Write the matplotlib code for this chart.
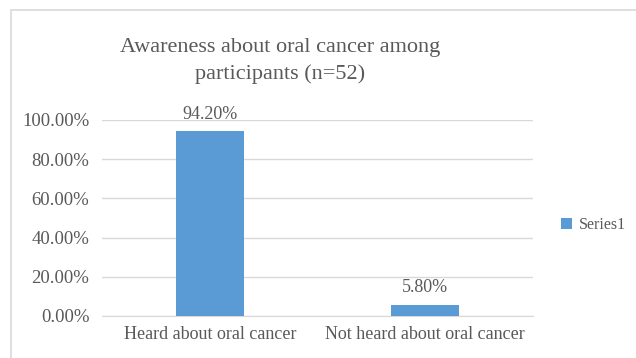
import matplotlib
matplotlib.use("Agg")
import matplotlib.pyplot as plt
from matplotlib.patches import Rectangle

categories = ["Heard about oral cancer", "Not heard about oral cancer"]
values = [94.20, 5.80]
series_name = "Series1"
yticks = [0, 20, 40, 60, 80, 100]
title = "Awareness about oral cancer among\nparticipants (n=52)"

plt.rcParams['font.family'] = ['Liberation Serif', 'DejaVu Serif']
FAM = ['Liberation Serif', 'DejaVu Serif']

W, H = 636, 358
fig = plt.figure(figsize=(W / 100, H / 100), dpi=100)
txt = '#595959'
bar_color = '#5B9BD5'
fs = 13

# outer chart border (top and left visible)
fig.patches.append(Rectangle((10.5 / W, -0.1), 1.2, (H - 9.5) / H + 0.1,
                             transform=fig.transFigure, fill=False,
                             edgecolor='#D9D9D9', linewidth=1.2))

ax = fig.add_axes([102 / W, (H - 316) / H, (533 - 102) / W, (316 - 120) / H])
x = range(len(categories))
bars = ax.bar(x, values, width=0.315, color=bar_color, label=series_name, zorder=3)
ax.set_xlim(-0.5, len(categories) - 0.5)
ax.set_ylim(0, 100)
ax.set_yticks(yticks)
ax.set_yticklabels([f"{v:.2f}%" for v in yticks], family=FAM, fontsize=13.5, color=txt)
ax.set_xticks(list(x))
ax.set_xticklabels(categories, family=FAM, fontsize=fs, color=txt)
ax.tick_params(axis='both', length=0)
ax.tick_params(axis='y', pad=9)
ax.tick_params(axis='x', pad=7)
ax.grid(axis='y', color='#D9D9D9', linewidth=1, zorder=0)
for s in ax.spines.values():
    s.set_visible(False)
ax.spines['bottom'].set_visible(True)
ax.spines['bottom'].set_color('#D9D9D9')

for b, v in zip(bars, values):
    ax.annotate(f"{v:.2f}%", (b.get_x() + b.get_width() / 2, v),
                xytext=(0, 6), textcoords='offset points',
                ha='center', va='bottom', color=txt, fontsize=fs, family=FAM)

fig.text(280 / W, 1 - 61 / H, title, ha='center', va='center', color=txt,
         fontsize=16, linespacing=1.45, family=FAM)

leg = fig.legend(handles=[bars], labels=[series_name], loc='center left',
                 bbox_to_anchor=(547 / W, 1 - 225 / H), frameon=False,
                 prop={'family': FAM, 'size': 11.5}, handlelength=0.65, handleheight=0.65,
                 handletextpad=0.45, labelcolor=txt)

fig.savefig("out.png", dpi=100, facecolor='white')
